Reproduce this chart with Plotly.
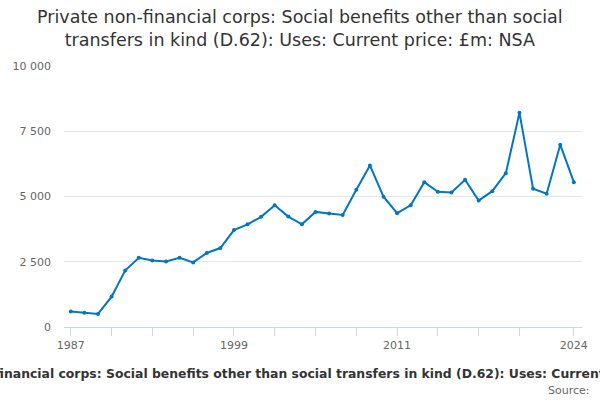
import plotly.graph_objects as go

# yearly values, £m
years = list(range(1987, 2025))
values = [590, 550, 500, 1165, 2165, 2650, 2550, 2510, 2650, 2475,
          2835, 3025, 3715, 3935, 4220, 4665, 4230, 3935, 4410, 4345,
          4295, 5255, 6190, 4990, 4360, 4665, 5550, 5180, 5155, 5640,
          4845, 5205, 5895, 8205, 5295, 5105, 6985, 5550]

tick_years = list(range(1987, 2021, 3)) + [2024]
tick_labels = [str(y) if y in (1987, 1999, 2011, 2024) else "" for y in tick_years]
y_ticks = [0, 2500, 5000, 7500, 10000]

title = "Private non-financial corps: Social benefits other than social transfers in kind (D.62): Uses: Current price: £m: NSA"

fig = go.Figure(go.Scatter(
    x=years, y=values,
    mode="lines+markers",
    line=dict(color="#0077c0", width=2),
    marker=dict(color="#0077c0", size=4),
))

fig.update_layout(
    width=600, height=400,
    margin=dict(l=63, r=16, t=66, b=73),
    paper_bgcolor="white", plot_bgcolor="white",
    font=dict(family="DejaVu Sans", color="#333333"),
    separators=". ",
    showlegend=False,
)

fig.update_xaxes(
    range=[1986.5, 2024.6],
    tickvals=tick_years, ticktext=tick_labels,
    ticks="outside", ticklen=8, tickcolor="#ccd6eb",
    showline=True, linecolor="#ccd6eb", linewidth=1,
    showgrid=False, zeroline=False,
    tickfont=dict(size=11, color="#666666"),
)

fig.update_yaxes(
    range=[0, 10000],
    tickvals=y_ticks, tickformat=",d",
    showgrid=True, gridcolor="#e6e6e6", zeroline=False,
    showline=False, ticks="", ticklabelstandoff=12,
    tickfont=dict(size=11, color="#666666"),
)

# title as an annotation so the two lines sit where they do in the original
fig.add_annotation(
    text="Private non-financial corps: Social benefits other than social<br>transfers in kind (D.62): Uses: Current price: £m: NSA",
    xref="paper", yref="paper", x=0.455, y=1.143,
    xanchor="center", yanchor="middle", showarrow=False,
    font=dict(size=17.5, color="#333333"),
)

# bottom caption is wider than the chart in the original, so it gets clipped
fig.add_annotation(
    text="<b>" + title + "</b>", xref="paper", yref="paper",
    x=0.477, y=-0.178, xanchor="center", yanchor="middle",
    showarrow=False, font=dict(size=12.4, color="#333333"),
)
fig.add_annotation(
    text="Source:", xref="paper", yref="paper",
    x=1.02, y=-0.245, xanchor="right", yanchor="middle",
    showarrow=False, font=dict(size=11, color="#666666"),
)

fig.write_html("out.html", config={"displayModeBar": False},
               post_script="document.body.style.margin='0';")
